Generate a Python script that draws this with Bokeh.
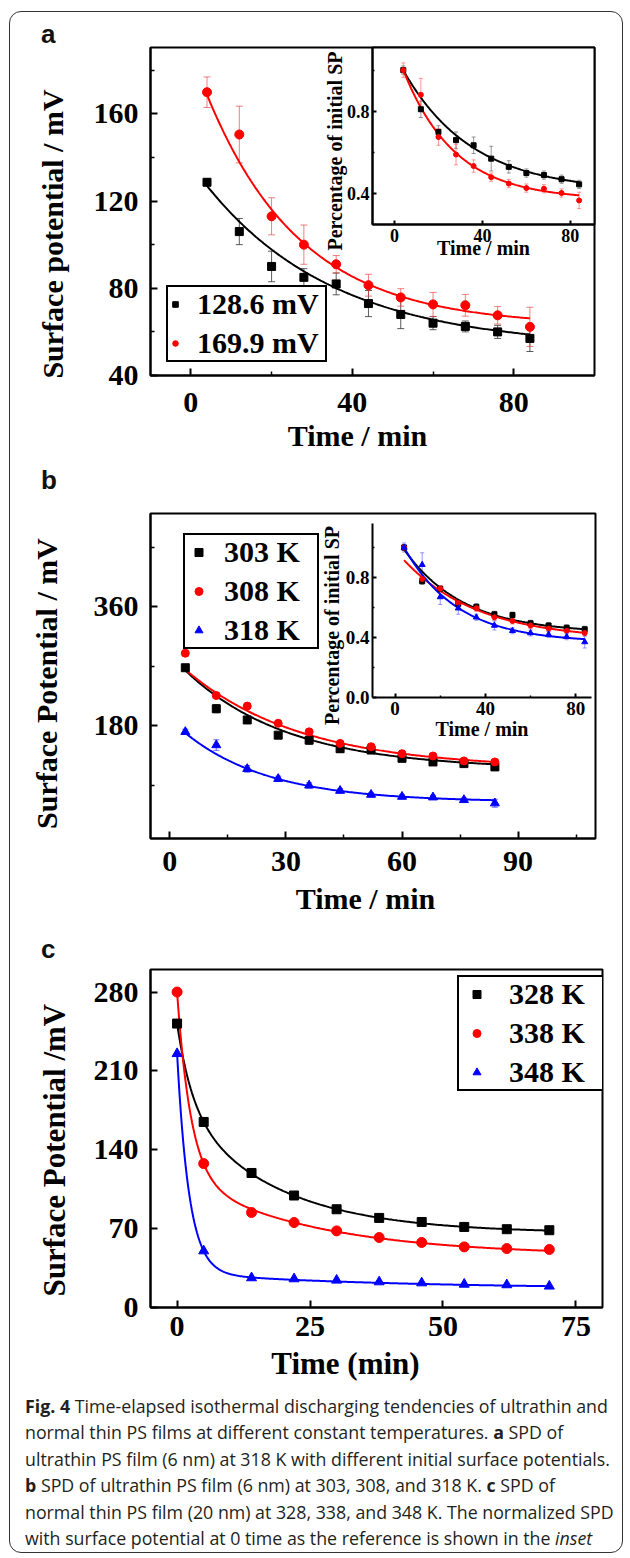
import numpy as np
from bokeh.plotting import figure
from bokeh.models import (ColumnDataSource, Whisker, TeeHead, FixedTicker, Legend, LegendItem,
                          Div, Range1d, PrintfTickFormatter, Column)
from bokeh.embed import file_html
from bokeh.resources import INLINE

SERIF = "Liberation Serif"
NB = "\u00a0"

# ---------------- data: panel a ----------------
t_a = [4, 12, 20, 28, 36, 44, 52, 60, 68, 76, 84]
sp_a_128 = [128.6, 106, 90, 85, 82, 73, 68, 64, 62.5, 60, 57]
err_a_128 = [1.5, 6, 7, 4, 5, 6, 6.5, 3, 2.5, 3, 6]
sp_a_170 = [169.9, 150.5, 113, 100, 91, 81.4, 75.8, 72.6, 72.2, 67.6, 62.3]
err_a_170 = [7, 13, 8.5, 9, 4, 5, 4, 5.5, 5, 4, 9]
norm_a_128 = [1.0, 0.81, 0.70, 0.66, 0.635, 0.57, 0.53, 0.50, 0.49, 0.47, 0.445]
nerr_a_128 = [0.02, 0.04, 0.03, 0.04, 0.04, 0.06, 0.03, 0.02, 0.02, 0.02, 0.02]
norm_a_170 = [1.0, 0.88, 0.675, 0.59, 0.534, 0.48, 0.449, 0.427, 0.424, 0.403, 0.367]
nerr_a_170 = [0.035, 0.08, 0.04, 0.05, 0.03, 0.02, 0.02, 0.02, 0.02, 0.02, 0.04]
labels_a = ["128.6 mV", "169.9 mV"]
# exponential fits y0 + A*exp(-t/tau)
fit_a_128 = (52.7, 84.2, 32.0)
fit_a_170 = (62.8, 125.8, 23.3)
fit_ai_128 = (0.41, 0.67, 31.3)
fit_ai_170 = (0.371, 0.746, 23.5)

# ---------------- data: panel b ----------------
t_b = [4, 12, 20, 28, 36, 44, 52, 60, 68, 76, 84]
sp_b_303 = [268, 206, 189, 166, 158.5, 145.5, 143.5, 131, 125.5, 123, 118]
err_b_303 = [4, 6, 5, 4, 6, 5, 5, 3, 4, 4, 5]
sp_b_308 = [290, 226, 210, 184, 171, 153.5, 148.5, 138, 134.5, 127, 125.5]
err_b_308 = [3, 3, 3, 3, 3, 3, 3, 3, 3, 3, 3]
sp_b_318 = [171, 151, 115, 100, 90, 82, 76, 73, 72, 68, 63]
err_b_318 = [4, 8, 5, 4, 4, 3, 3, 3, 3, 3, 6]
norm_b_303 = [1.0, 0.775, 0.725, 0.625, 0.605, 0.555, 0.55, 0.495, 0.48, 0.465, 0.455]
norm_b_308 = [1.0, 0.79, 0.725, 0.63, 0.595, 0.535, 0.51, 0.48, 0.46, 0.445, 0.43]
norm_b_318 = [1.0, 0.885, 0.67, 0.595, 0.535, 0.48, 0.445, 0.43, 0.42, 0.405, 0.37]
nerr_b_303 = [0.02] * 11
nerr_b_308 = [0.02] * 11
nerr_b_318 = [0.03, 0.08, 0.05, 0.04, 0.02, 0.03, 0.02, 0.02, 0.02, 0.02, 0.04]
labels_b = ["303 K", "308 K", "318 K"]
fit_b_303 = (114.5, 173.6, 26.7)
fit_b_308 = (115.4, 171.5, 29.7)
fit_b_318 = (64.9, 125.4, 21.9)
fit_bi_303 = (0.429, 0.65, 26.2)
fit_bi_308 = (0.384, 0.60, 33.0)
fit_bi_318 = (0.3675, 0.749, 23.7)

# ---------------- data: panel c ----------------
t_c = [0, 5, 14, 22, 30, 38, 46, 54, 62, 70]
sp_c_328 = [252, 164.7, 119.4, 99.4, 87.2, 79.5, 75.9, 71.5, 69.5, 68.6]
sp_c_338 = [280, 127.7, 84.3, 75.4, 68, 62.1, 57.7, 53.8, 52.3, 51.5]
sp_c_348 = [225.3, 50.2, 26.3, 25.4, 24.2, 22.7, 21.8, 20.6, 20.1, 18.9]
labels_c = ["328 K", "338 K", "348 K"]
# bi-exponential fits y0 + A1*exp(-t/t1) + A2*exp(-t/t2)
fit_c_328 = (66.0, 72.0, 2.85, 114.0, 17.9)
fit_c_338 = (46.0, 163.0, 2.59, 70.9, 25.0)
fit_c_348 = (16.5, 195.0, 2.26, 13.9, 40.0)

BLACK, RED, BLUE = "#000000", "#ff0000", "#0000ff"


def exp1(params, t0, t1, n=200):
    y0, a, tau = params
    t = np.linspace(t0, t1, n)
    return t, y0 + a * np.exp(-t / tau)


def exp2(params, t0, t1, n=300):
    y0, a1, k1, a2, k2 = params
    t = np.linspace(t0, t1, n)
    return t, y0 + a1 * np.exp(-t / k1) + a2 * np.exp(-t / k2)


LEFT = 142   # common left border (layout aligns plots in a column)
RIGHT = 20   # common right border


def make_fig(xr, yr, fw, fh, top, bottom, outline=True):
    p = figure(x_range=Range1d(*xr), y_range=Range1d(*yr), frame_width=fw, frame_height=fh,
               min_border_left=LEFT, min_border_right=RIGHT, min_border_top=top,
               min_border_bottom=bottom, output_backend="svg", toolbar_location=None,
               background_fill_color="white", border_fill_color=None)
    p.grid.visible = False
    p.outline_line_color = "black" if outline else None
    p.outline_line_width = 2
    p.outline_line_alpha = 1
    return p


def style_axis(ax, tick_px, label_px, label_standoff, tick_standoff, tick_in, minor_in):
    ax.axis_line_width = 2
    ax.axis_line_color = "black"
    ax.major_tick_line_width = 2
    ax.major_tick_line_color = "black"
    ax.minor_tick_line_width = 1.5
    ax.minor_tick_line_color = "black"
    ax.major_tick_in = tick_in
    ax.major_tick_out = 0
    ax.minor_tick_in = minor_in
    ax.minor_tick_out = 0
    ax.major_label_text_font = SERIF
    ax.major_label_text_font_style = "bold"
    ax.major_label_text_font_size = f"{tick_px}px"
    ax.major_label_text_color = "black"
    ax.axis_label_text_font = SERIF
    ax.axis_label_text_font_style = "bold"
    ax.axis_label_text_font_size = f"{label_px}px"
    ax.axis_label_text_color = "black"
    ax.axis_label_standoff = label_standoff
    ax.major_label_standoff = tick_standoff


def errbars(p, x, y, e, color, alpha, head):
    src = ColumnDataSource(dict(x=x, upper=[v + d for v, d in zip(y, e)],
                                lower=[v - d for v, d in zip(y, e)]))
    w = Whisker(base="x", upper="upper", lower="lower", source=src, line_color=color,
                line_alpha=alpha, line_width=1,
                upper_head=TeeHead(size=head, line_color=color, line_alpha=alpha, line_width=1),
                lower_head=TeeHead(size=head, line_color=color, line_alpha=alpha, line_width=1))
    p.add_layout(w)


def legend(p, items, loc, gw, gh, standoff, lw):
    leg = Legend(items=items, location=loc, orientation="vertical", padding=0, spacing=5,
                 margin=0, glyph_width=gw, glyph_height=gh, label_standoff=standoff,
                 label_width=lw, border_line_color="black", border_line_width=2,
                 border_line_alpha=1, background_fill_color="white", background_fill_alpha=1,
                 label_text_font=SERIF, label_text_font_style="bold",
                 label_text_font_size="30px", label_text_color="black")
    p.add_layout(leg)


def absolute(m, left, top):
    m.styles = {"position": "absolute", "left": f"{left}px", "top": f"{top}px"}
    return m


# ================= panel a =================
pa = make_fig((-10, 100), (40, 190.4), 444, 328, 35, 110)
style_axis(pa.xaxis[0], 30, 30, 4, 17, 7, 4)
style_axis(pa.yaxis[0], 30, 30, 22, 12, 7, 4)
pa.xaxis.ticker = FixedTicker(ticks=[0, 40, 80], minor_ticks=[20, 60])
pa.yaxis.ticker = FixedTicker(ticks=[40, 80, 120, 160], minor_ticks=[60, 100, 140, 180])
pa.xaxis.axis_label = "Time / min" + NB * 4
pa.yaxis.axis_label = "Surface potential / mV" + NB * 6
tx, ty = exp1(fit_a_128, 4, 84)
pa.line(tx, ty, line_color=BLACK, line_width=2)
tx, ty = exp1(fit_a_170, 4, 84)
pa.line(tx, ty, line_color=RED, line_width=2)
errbars(pa, t_a, sp_a_128, err_a_128, "#333333", 0.8, 7)
errbars(pa, t_a, sp_a_170, err_a_170, "#e83a3a", 0.65, 7)
ra1 = pa.scatter(t_a, sp_a_128, marker="square", size=8, color=BLACK)
ra2 = pa.scatter(t_a, sp_a_170, marker="circle", size=9, color=RED)
legend(pa, [LegendItem(label=labels_a[0], renderers=[ra1]),
            LegendItem(label=labels_a[1], renderers=[ra2])], (16, 13), 14, 20, 15, 128)

INSET_TOP = 40
ia = make_fig((-10, 91), (0.25, 1.11), 222, 177, INSET_TOP, 60)
style_axis(ia.xaxis[0], 18, 20, -8, 4, 4, 2)
style_axis(ia.yaxis[0], 18, 20, -2, 3, 4, 2)
ia.xaxis.ticker = FixedTicker(ticks=[0, 40, 80])
ia.yaxis.ticker = FixedTicker(ticks=[0.4, 0.8], minor_ticks=[0.6, 1.0])
ia.xaxis.axis_label = "Time / min"
ia.yaxis.axis_label = "Percentage of initial SP" + NB * 6
tx, ty = exp1(fit_ai_128, 4, 84)
ia.line(tx, ty, line_color=BLACK, line_width=2)
tx, ty = exp1(fit_ai_170, 4, 84)
ia.line(tx, ty, line_color=RED, line_width=2)
errbars(ia, t_a, norm_a_128, nerr_a_128, "#555555", 0.6, 4)
errbars(ia, t_a, norm_a_170, nerr_a_170, "#ff5050", 0.6, 4)
ia.scatter(t_a, norm_a_128, marker="square", size=5, color=BLACK)
ia.scatter(t_a, norm_a_170, marker="circle", size=5, color=RED)

# ================= panel b =================
pb = make_fig((-5, 110), (9.7, 501.3), 445, 325, 30, 110)
style_axis(pb.xaxis[0], 30, 30, 8, 13, 7, 4)
style_axis(pb.yaxis[0], 30, 30, 28, 12, 7, 4)
pb.xaxis.ticker = FixedTicker(ticks=[0, 30, 60, 90], minor_ticks=[15, 45, 75, 105])
pb.yaxis.ticker = FixedTicker(ticks=[180, 360], minor_ticks=[90, 270, 450])
pb.xaxis.axis_label = "Time / min" + NB * 2
pb.yaxis.axis_label = "Surface Potential / mV" + NB * 2
for fit, col in ((fit_b_303, BLACK), (fit_b_308, RED), (fit_b_318, BLUE)):
    tx, ty = exp1(fit, 4, 84)
    pb.line(tx, ty, line_color=col, line_width=2)
errbars(pb, t_b, sp_b_303, err_b_303, "#222222", 0.9, 6)
errbars(pb, t_b, sp_b_308, err_b_308, "#ff3030", 0.7, 6)
errbars(pb, t_b, sp_b_318, err_b_318, "#3030ff", 0.7, 6)
rb1 = pb.scatter(t_b, sp_b_303, marker="square", size=8, color=BLACK)
rb2 = pb.scatter(t_b, sp_b_308, marker="circle", size=8, color=RED)
rb3 = pb.scatter(t_b, sp_b_318, marker="triangle", size=9, color=BLUE)
legend(pb, [LegendItem(label=labels_b[0], renderers=[rb1]),
            LegendItem(label=labels_b[1], renderers=[rb2]),
            LegendItem(label=labels_b[2], renderers=[rb3])], (33, 189), 27, 20, 12, 93)

ib = make_fig((-10, 87), (0, 1.16), 219, 174, INSET_TOP, 60, outline=False)
style_axis(ib.xaxis[0], 19, 20, 0, 4, 4, 2)
style_axis(ib.yaxis[0], 19, 20, 0, 3, 4, 2)
ib.xaxis.ticker = FixedTicker(ticks=[0, 40, 80], minor_ticks=[20, 60])
ib.yaxis.ticker = FixedTicker(ticks=[0.0, 0.4, 0.8], minor_ticks=[0.2, 0.6, 1.0])
ib.yaxis.formatter = PrintfTickFormatter(format="%.1f")
ib.xaxis.axis_label = "Time / min"
ib.yaxis.axis_label = "Percentage of initial SP" + NB * 6
for fit, col in ((fit_bi_303, BLACK), (fit_bi_308, RED), (fit_bi_318, BLUE)):
    tx, ty = exp1(fit, 4, 84)
    ib.line(tx, ty, line_color=col, line_width=2)
errbars(ib, t_b, norm_b_303, nerr_b_303, "#555555", 0.6, 4)
errbars(ib, t_b, norm_b_308, nerr_b_308, "#ff5050", 0.6, 4)
errbars(ib, t_b, norm_b_318, nerr_b_318, "#5050ff", 0.6, 4)
ib.scatter(t_b, norm_b_303, marker="square", size=5, color=BLACK)
ib.scatter(t_b, norm_b_308, marker="circle", size=5, color=RED)
ib.scatter(t_b, norm_b_318, marker="triangle", size=6, color=BLUE)

# ================= panel c =================
pc = make_fig((-5, 80), (0, 300), 455, 338, 30, 110)
style_axis(pc.xaxis[0], 30, 31, 7, 9, 7, 4)
style_axis(pc.yaxis[0], 30, 31, 19, 12, 7, 4)
pc.xaxis.ticker = FixedTicker(ticks=[0, 25, 50, 75])
pc.yaxis.ticker = FixedTicker(ticks=[0, 70, 140, 210, 280])
pc.xaxis.axis_label = "Time (min)" + NB * 8
pc.yaxis.axis_label = "Surface Potential /mV" + NB * 3
for fit, col in ((fit_c_328, BLACK), (fit_c_338, RED), (fit_c_348, BLUE)):
    tx, ty = exp2(fit, 0, 70)
    pc.line(tx, ty, line_color=col, line_width=2)
rc1 = pc.scatter(t_c, sp_c_328, marker="square", size=9, color=BLACK)
rc2 = pc.scatter(t_c, sp_c_338, marker="circle", size=10, color=RED)
rc3 = pc.scatter(t_c, sp_c_348, marker="triangle", size=10, color=BLUE)
legend(pc, [LegendItem(label=labels_c[0], renderers=[rc1]),
            LegendItem(label=labels_c[1], renderers=[rc2]),
            LegendItem(label=labels_c[2], renderers=[rc3])], (307, 216), 35, 20, 15, 93)

# ================= page furniture (page coordinates) =================
frame_div = Div(text="", width=619, height=1545, margin=0,
                styles={"position": "absolute", "left": "9px", "top": "11px",
                        "border": "1.5px solid #333", "border-radius": "12px",
                        "box-sizing": "border-box"})


def letter(ch, top):
    return absolute(Div(text=f'<div style="font-family:\'Liberation Sans\';font-weight:bold;'
                             f'font-size:26px;line-height:26px;color:#111">{ch}</div>',
                        width=30, height=30, margin=0), 41, top)


caption_html = (
    '<div style="font-family:\'Open Sans\';font-size:17.8px;line-height:26.4px;color:#231f20;'
    'white-space:nowrap">'
    '<b>Fig. 4</b> Time-elapsed isothermal discharging tendencies of ultrathin and<br>'
    'normal thin PS films at different constant temperatures. <b>a</b> SPD of<br>'
    'ultrathin PS film (6 nm) at 318 K with different initial surface potentials.<br>'
    '<b>b</b> SPD of ultrathin PS film (6 nm) at 303, 308, and 318 K. <b>c</b> SPD of<br>'
    'normal thin PS film (20 nm) at 328, 338, and 348 K. The normalized SPD<br>'
    'with surface potential at 0 time as the reference is shown in the <i>inset</i>'
    '</div>')
caption = absolute(Div(text=caption_html, width=600, height=160, margin=0), 25, 1393)

kids = [frame_div,
        absolute(pa, 8, 12), absolute(ia, 230, 47 - INSET_TOP),
        absolute(pb, 8, 483), absolute(ib, 230, 523 - INSET_TOP),
        absolute(pc, 8, 939),
        caption, letter("a", 21), letter("b", 467), letter("c", 936)]

root = Column(children=kids, width=614, height=1542)

open("out.html", "w").write(file_html(root, INLINE))
